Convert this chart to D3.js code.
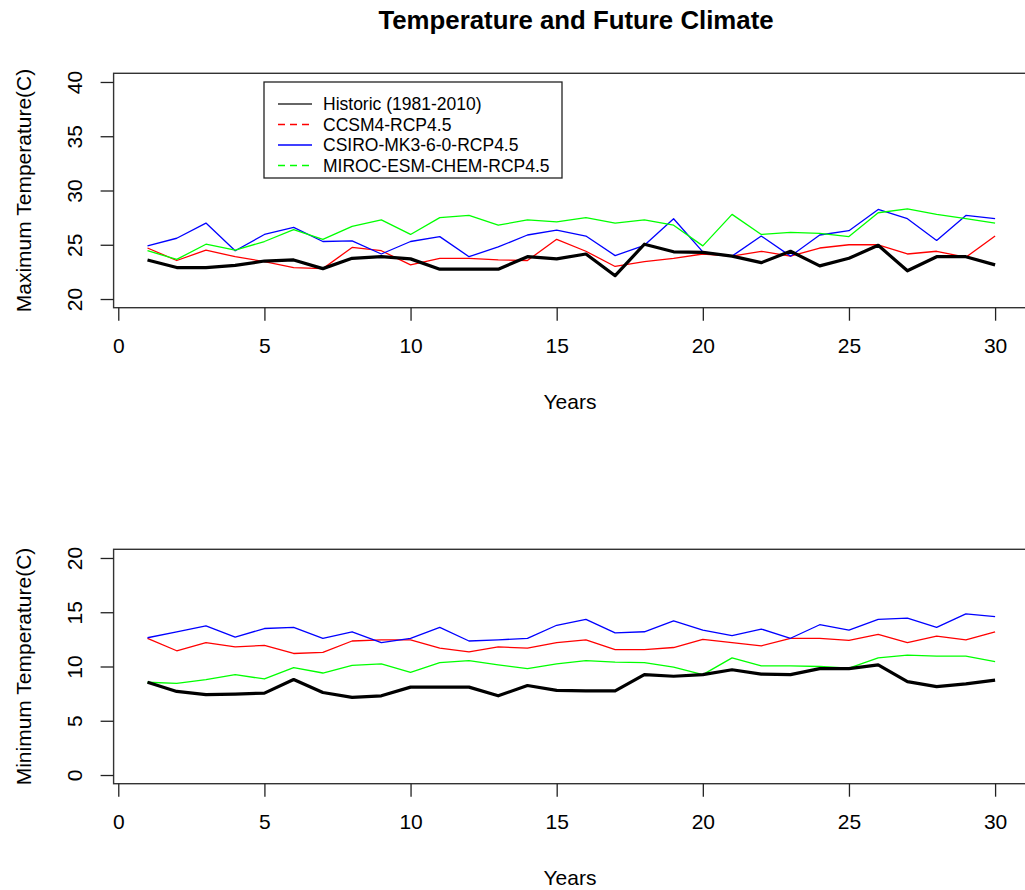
<!DOCTYPE html>
<html>
<head>
<meta charset="utf-8">
<script src="https://cdn.jsdelivr.net/npm/d3@7"></script>
<style>
  body { margin: 0; background: #fff; }
  text { font-family: "Liberation Sans", Arial, sans-serif; fill: #000; }
</style>
</head>
<body>
<div id="chart"></div>
<script>
var years = d3.range(1, 31)

var seriesNames = ['Historic (1981-2010)', 'CCSM4-RCP4.5', 'CSIRO-MK3-6-0-RCP4.5', 'MIROC-ESM-CHEM-RCP4.5']
var seriesColors = ['#000000', '#ff0000', '#0000ff', '#00ff00']

var xTicks = [0, 5, 10, 15, 20, 25, 30]
var maxTicks = [20, 25, 30, 35, 40]
var minTicks = [0, 5, 10, 15, 20]

var maxHistoric = [23.6, 22.9, 22.9, 23.1, 23.5, 23.6, 22.8, 23.75, 23.9, 23.7, 22.75, 22.75, 22.75, 23.9, 23.7,
    24.15, 22.15, 25.05, 24.35, 24.3, 23.95, 23.35, 24.4, 23.05, 23.75, 24.95, 22.6, 23.9, 23.9, 23.15]
var maxCCSM4 = [24.7, 23.55, 24.5, 23.9, 23.45, 22.9, 22.8, 24.75, 24.45, 23.15, 23.75, 23.75, 23.6, 23.55, 25.5,
    24.4, 23.0, 23.45, 23.75, 24.15, 23.95, 24.4, 23.95, 24.7, 25.0, 25.0, 24.15, 24.4, 23.85, 25.8]
var maxCSIRO = [24.9, 25.6, 27.0, 24.45, 25.95, 26.6, 25.3, 25.35, 24.15, 25.3, 25.75, 23.9, 24.8, 25.9, 26.35,
    25.8, 24.0, 24.95, 27.4, 24.35, 23.95, 25.8, 23.95, 25.9, 26.3, 28.25, 27.4, 25.4, 27.7, 27.4]
var maxMIROC = [24.45, 23.65, 25.05, 24.5, 25.3, 26.4, 25.5, 26.7, 27.3, 25.95, 27.5, 27.7, 26.8, 27.3, 27.1,
    27.5, 27.0, 27.3, 26.8, 24.9, 27.8, 25.95, 26.15, 26.05, 25.75, 27.95, 28.3, 27.8, 27.4, 27.0]

var minHistoric = [8.55, 7.7, 7.4, 7.45, 7.55, 8.8, 7.6, 7.15, 7.3, 8.1, 8.1, 8.1, 7.3, 8.25, 7.8,
    7.75, 7.75, 9.25, 9.1, 9.25, 9.7, 9.3, 9.25, 9.8, 9.8, 10.15, 8.6, 8.15, 8.4, 8.75]
var minCCSM4 = [12.6, 11.45, 12.2, 11.8, 11.95, 11.2, 11.3, 12.35, 12.45, 12.45, 11.7, 11.35, 11.8, 11.7, 12.2,
    12.45, 11.55, 11.55, 11.75, 12.5, 12.2, 11.9, 12.6, 12.6, 12.4, 12.95, 12.2, 12.8, 12.45, 13.2]
var minCSIRO = [12.65, 13.2, 13.75, 12.7, 13.5, 13.6, 12.6, 13.2, 12.2, 12.6, 13.6, 12.35, 12.45, 12.6, 13.8,
    14.35, 13.1, 13.2, 14.2, 13.35, 12.85, 13.45, 12.6, 13.85, 13.35, 14.35, 14.45, 13.6, 14.85, 14.6]
var minMIROC = [8.55, 8.45, 8.8, 9.25, 8.85, 9.9, 9.4, 10.1, 10.25, 9.45, 10.35, 10.55, 10.15, 9.8, 10.25,
    10.55, 10.4, 10.35, 9.95, 9.25, 10.8, 10.05, 10.05, 10.0, 9.85, 10.8, 11.05, 10.95, 10.95, 10.45]

var width = 1025,
    height = 890,
    plotLeft = 113.6,
    plotRight = 1029,
    panelHeight = 234.4

var svg = d3.select('#chart')
    .append('svg')
    .attr('width', width)
    .attr('height', height)

svg.append('text')
    .attr('x', 576)
    .attr('y', 29)
    .attr('text-anchor', 'middle')
    .style('font-size', '25.8px')
    .style('font-weight', 'bold')
    .text('Temperature and Future Climate')

// R style axis range: data range padded by 4% on each side
var xScale = d3.scaleLinear().domain([-0.16, 31.16]).range([plotLeft, plotRight])

function drawPanel(top, yDomain, yTicks, yLabel, seriesData, showLegend) {
    var bottom = top + panelHeight
    var pad = (yDomain[1] - yDomain[0]) * 0.04
    var yScale = d3.scaleLinear()
        .domain([yDomain[0] - pad, yDomain[1] + pad])
        .range([bottom, top])

    var g = svg.append('g')

    // lines, drawn with the historic one last so it sits on top
    var line = d3.line()
        .x((d, i) => xScale(years[i]))
        .y(d => yScale(d))

    var order = [1, 2, 3, 0]
    order.forEach(function (k) {
        g.append('path')
            .datum(seriesData[k])
            .attr('d', line)
            .attr('fill', 'none')
            .attr('stroke', seriesColors[k])
            .attr('stroke-width', k == 0 ? 3.2 : 1.3)
            .attr('stroke-linejoin', 'round')
    })

    // box
    g.append('rect')
        .attr('x', plotLeft)
        .attr('y', top)
        .attr('width', plotRight - plotLeft)
        .attr('height', bottom - top)
        .attr('fill', 'none')
        .attr('stroke', '#333')
        .attr('stroke-width', 1.4)

    // x axis
    var xAxis = d3.axisBottom(xScale).tickValues(xTicks).tickSize(13).tickPadding(17)
    var gx = g.append('g')
        .attr('transform', `translate(0,${bottom})`)
        .call(xAxis)
    gx.select('.domain').remove()
    gx.selectAll('line').attr('stroke', '#222').attr('stroke-width', 1.3)
    gx.selectAll('text')
        .style('font-family', '"Liberation Sans", Arial, sans-serif')
        .style('font-size', '21px')
        .attr('fill', '#000')

    // y axis, labels parallel to the axis
    var yAxis = d3.axisLeft(yScale).tickValues(yTicks).tickSize(13).tickFormat(d3.format('d'))
    var gy = g.append('g')
        .attr('transform', `translate(${plotLeft},0)`)
        .call(yAxis)
    gy.select('.domain').remove()
    gy.selectAll('line').attr('stroke', '#222').attr('stroke-width', 1.3)
    gy.selectAll('text')
        .attr('x', 0)
        .attr('dy', 0)
        .attr('transform', 'translate(-31.6,0) rotate(-90)')
        .attr('text-anchor', 'middle')
        .style('font-family', '"Liberation Sans", Arial, sans-serif')
        .style('font-size', '21px')
        .attr('fill', '#000')

    g.append('text')
        .attr('transform', `translate(31,${(top + bottom) / 2}) rotate(-90)`)
        .attr('text-anchor', 'middle')
        .style('font-size', '21px')
        .text(yLabel)

    g.append('text')
        .attr('x', 570)
        .attr('y', bottom + 101)
        .attr('text-anchor', 'middle')
        .style('font-size', '21px')
        .text('Years')

    if (showLegend) {
        var legend = g.append('g').attr('class', 'legend')
        legend.append('rect')
            .attr('x', 264)
            .attr('y', 82)
            .attr('width', 298)
            .attr('height', 96)
            .attr('fill', '#fff')
            .attr('stroke', '#222')
            .attr('stroke-width', 1.3)

        var dashes = [null, '7,5', null, '7,5']
        legend.selectAll('line')
            .data(seriesNames)
            .enter()
            .append('line')
            .attr('x1', 278)
            .attr('x2', 312)
            .attr('y1', (d, i) => 104 + i * 20.5)
            .attr('y2', (d, i) => 104 + i * 20.5)
            .attr('stroke', (d, i) => i == 0 ? '#333' : seriesColors[i])
            .attr('stroke-width', 1.3)
            .attr('stroke-dasharray', (d, i) => dashes[i])

        legend.selectAll('text')
            .data(seriesNames)
            .enter()
            .append('text')
            .attr('x', 323)
            .attr('y', (d, i) => 104 + i * 20.5)
            .attr('dy', '0.35em')
            .style('font-size', '17.5px')
            .text(d => d)
    }
}

drawPanel(73.3, [20, 40], maxTicks, 'Maximum Temperature(C)', [maxHistoric, maxCCSM4, maxCSIRO, maxMIROC], true)
drawPanel(549.3, [0, 20], minTicks, 'Minimum Temperature(C)', [minHistoric, minCCSM4, minCSIRO, minMIROC], false)
</script>
</body>
</html>
